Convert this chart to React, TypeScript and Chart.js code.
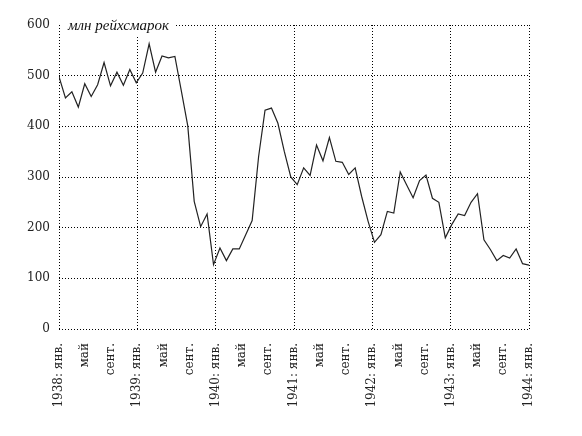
import React, { useEffect, useRef } from "react";
import { Chart, registerables } from "chart.js";

Chart.register(...registerables);

// Y-axis ticks (млн рейхсмарок)
const yTicks = [0, 100, 200, 300, 400, 500, 600];

// X-axis tick labels, every 4 months from Jan 1938 to Jan 1944
const tickLabels = [
  "1938: янв.", "май", "сент.",
  "1939: янв.", "май", "сент.",
  "1940: янв.", "май", "сент.",
  "1941: янв.", "май", "сент.",
  "1942: янв.", "май", "сент.",
  "1943: янв.", "май", "сент.",
  "1944: янв.",
];

// Series values (million Reichsmarks)
const values = [
  498, 456, 468, 438, 484, 459, 482, 526, 480, 507, 481, 512,
  486, 505, 563, 507, 539, 535, 538, 470, 401, 252, 202, 227,
  127, 160, 135, 158, 158, 186, 214, 340, 432, 436, 406, 350,
  300, 285, 318, 303, 363, 332, 378, 331, 329, 305, 318, 262,
  213, 171, 186, 232, 229, 310, 284, 259, 293, 304, 258, 250,
  180, 206, 227, 224, 250, 267, 176, 157, 135, 145, 140, 158,
  129, 126,
];

const unitLabel = "млн рейхсмарок";

export default function App() {
  const ref = useRef<HTMLCanvasElement | null>(null);

  useEffect(() => {
    document.body.style.margin = "0";
    const family = "'DejaVu Serif', 'Liberation Serif', serif";
    const tickFont = { family, size: 12 };

    const unitPlugin = {
      id: "unitLabel",
      afterDraw(chart: any) {
        const { ctx, chartArea } = chart;
        ctx.save();
        ctx.font = "italic 15px 'Liberation Serif', serif";
        const w = ctx.measureText(unitLabel).width;
        const x0 = chartArea.left + 9;
        ctx.fillStyle = "#ffffff";
        ctx.fillRect(chartArea.left + 2, chartArea.top - 9, w + 14, 21);
        ctx.fillStyle = "#111111";
        ctx.textBaseline = "alphabetic";
        ctx.fillText(unitLabel, x0, chartArea.top + 5);
        ctx.restore();
      },
    };

    const chart = new Chart(ref.current as HTMLCanvasElement, {
      type: "line",
      data: {
        datasets: [
          {
            data: values.map((v, i) => ({ x: i, y: v })),
            xAxisID: "xd",
            yAxisID: "y",
            borderColor: "#222222",
            borderWidth: 1.2,
            pointRadius: 0,
            tension: 0,
            fill: false,
          },
        ],
      },
      options: {
        animation: false,
        responsive: true,
        maintainAspectRatio: false,
        layout: { padding: { top: 25, right: 53, left: 0, bottom: 0 } },
        plugins: { legend: { display: false }, tooltip: { enabled: false } },
        scales: {
          x: {
            type: "linear",
            position: "bottom",
            min: 0,
            max: 72,
            afterBuildTicks: (s: any) => {
              s.ticks = tickLabels.map((_, i) => ({ value: i * 4 }));
            },
            afterFit: (s: any) => {
              s.height = 107;
            },
            ticks: {
              autoSkip: false,
              maxRotation: 90,
              minRotation: 90,
              padding: 14,
              font: tickFont,
              color: "#222222",
              callback: (v: any) => tickLabels[Math.round(Number(v) / 4)] ?? "",
            },
            grid: {
              drawTicks: false,
              lineWidth: 1,
              color: (c: any) =>
                c.tick && c.tick.value % 12 === 0 ? "#000000" : "rgba(0,0,0,0)",
            },
            border: { display: false, dash: [1, 2] },
          },
          xd: {
            type: "linear",
            axis: "x",
            position: "bottom",
            display: false,
            min: 0,
            max: values.length - 1,
          },
          y: {
            type: "linear",
            min: 0,
            max: 600,
            afterBuildTicks: (s: any) => {
              s.ticks = yTicks.map((v) => ({ value: v }));
            },
            afterFit: (s: any) => {
              s.width = 59;
            },
            ticks: { padding: 9, font: tickFont, color: "#222222" },
            grid: { drawTicks: false, lineWidth: 1, color: "#000000" },
            border: { display: false, dash: [1, 2] },
          },
        },
      },
      plugins: [unitPlugin],
    } as any);

    return () => chart.destroy();
  }, []);

  return (
    <div style={{ width: 582, height: 436, position: "relative" }}>
      <canvas ref={ref} />
    </div>
  );
}
